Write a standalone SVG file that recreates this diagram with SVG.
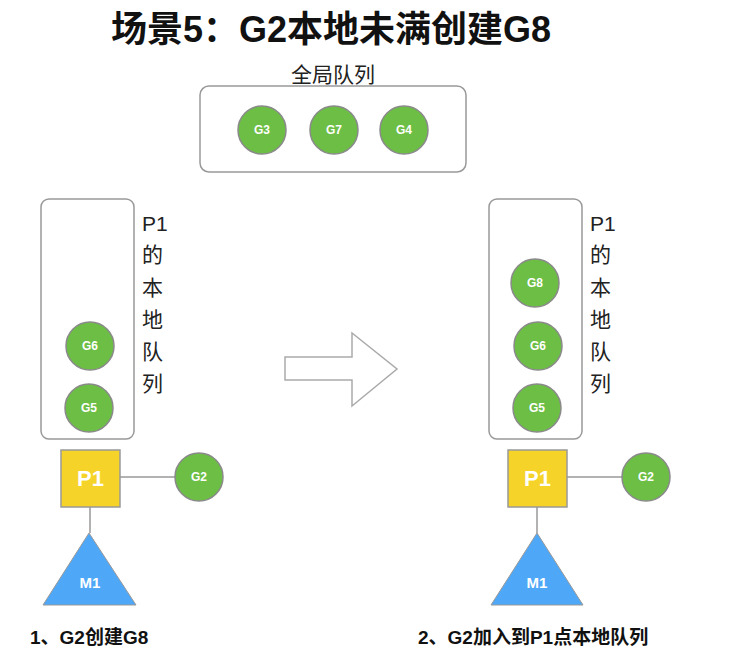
<svg xmlns="http://www.w3.org/2000/svg" width="755" height="662" viewBox="0 0 755 662">
<style>
.box{fill:#fff;stroke:#999;stroke-width:1.5}
.g{fill:#6cbe45;stroke:#8a8a8a;stroke-width:1.5}
.gt{font-family:"Liberation Sans",Arial,sans-serif;font-weight:bold;font-size:12px;fill:#fff;text-anchor:middle}
.p{fill:#f5d328;stroke:#999;stroke-width:1.5}
.pt{font-family:"Liberation Sans",Arial,sans-serif;font-weight:bold;font-size:22px;fill:#fff;text-anchor:middle}
.m{fill:#4ea8f7;stroke:#999;stroke-width:1}
.mt{font-family:"Liberation Sans",Arial,sans-serif;font-weight:bold;font-size:15px;fill:#fff;text-anchor:middle}
.lbl{font-family:"Liberation Sans","Noto Sans CJK SC",sans-serif;font-size:21px;fill:#222}
.cap{font-family:"Liberation Sans","Noto Sans CJK SC",sans-serif;font-weight:bold;font-size:19px;fill:#111}
.ln{stroke:#999;stroke-width:1.5;fill:none}
</style>
<rect width="755" height="662" fill="#fff"/>
<text x="331" y="42" text-anchor="middle" style="font-family:'Liberation Sans','Noto Sans CJK SC',sans-serif;font-weight:bold;font-size:36px;fill:#111">场景5：G2本地未满创建G8</text>

<g id="global-queue">
<text x="333" y="82" text-anchor="middle" class="lbl">全局队列</text>
<rect class="box" x="200" y="86" width="266" height="86" rx="9"/>
</g>
<g id="G3"><circle class="g" cx="262" cy="130" r="24"/><text class="gt" x="262" y="134">G3</text></g>
<g id="G7"><circle class="g" cx="334" cy="130" r="24"/><text class="gt" x="334" y="134">G7</text></g>
<g id="G4"><circle class="g" cx="404" cy="130" r="24"/><text class="gt" x="404" y="134">G4</text></g>

<g id="left-local-queue">
<rect class="box" x="41" y="199" width="93" height="240" rx="8"/>
<text class="lbl" x="142" y="231">P1</text>
<text class="lbl" x="142" y="262">的</text>
<text class="lbl" x="142" y="295">本</text>
<text class="lbl" x="142" y="327">地</text>
<text class="lbl" x="142" y="359">队</text>
<text class="lbl" x="142" y="391">列</text>
</g>
<g id="L-G6"><circle class="g" cx="90" cy="346" r="24"/><text class="gt" x="90" y="350">G6</text></g>
<g id="L-G5"><circle class="g" cx="89" cy="408" r="24"/><text class="gt" x="89" y="412">G5</text></g>

<g id="connectors">
<line class="ln" x1="120" y1="477" x2="175" y2="477"/>
<line class="ln" x1="90" y1="507" x2="90" y2="533"/>
<line class="ln" x1="567" y1="477" x2="622" y2="477"/>
<line class="ln" x1="537" y1="507" x2="537" y2="533"/>
</g>

<g id="L-P1"><rect class="p" x="61" y="450" width="59" height="57"/><text class="pt" x="90.5" y="486">P1</text></g>
<g id="L-G2"><circle class="g" cx="199" cy="477" r="24"/><text class="gt" x="199" y="481">G2</text></g>
<g id="L-M1"><polygon class="m" points="89,533 43,605 136,605"/><text class="mt" x="90" y="588">M1</text></g>
<g id="caption1"><text class="cap" x="30" y="644">1、G2创建G8</text></g>

<g id="arrow"><polygon points="285,357 352,357 352,333 397,369 352,406 352,380 285,380" fill="#fff" stroke="#aaa" stroke-width="1.5"/></g>

<g id="right-local-queue">
<rect class="box" x="489" y="199" width="93" height="240" rx="8"/>
<text class="lbl" x="590" y="231">P1</text>
<text class="lbl" x="590" y="262">的</text>
<text class="lbl" x="590" y="295">本</text>
<text class="lbl" x="590" y="327">地</text>
<text class="lbl" x="590" y="359">队</text>
<text class="lbl" x="590" y="391">列</text>
</g>
<g id="R-G8"><circle class="g" cx="535" cy="283" r="24"/><text class="gt" x="535" y="287">G8</text></g>
<g id="R-G6"><circle class="g" cx="538" cy="346" r="24"/><text class="gt" x="538" y="350">G6</text></g>
<g id="R-G5"><circle class="g" cx="537" cy="408" r="24"/><text class="gt" x="537" y="412">G5</text></g>

<g id="R-P1"><rect class="p" x="508" y="450" width="59" height="57"/><text class="pt" x="537.5" y="486">P1</text></g>
<g id="R-G2"><circle class="g" cx="646" cy="477" r="24"/><text class="gt" x="646" y="481">G2</text></g>
<g id="R-M1"><polygon class="m" points="537,533 491,605 583,605"/><text class="mt" x="537" y="588">M1</text></g>
<g id="caption2"><text class="cap" x="418" y="644">2、G2加入到P1点本地队列</text></g>
</svg>
